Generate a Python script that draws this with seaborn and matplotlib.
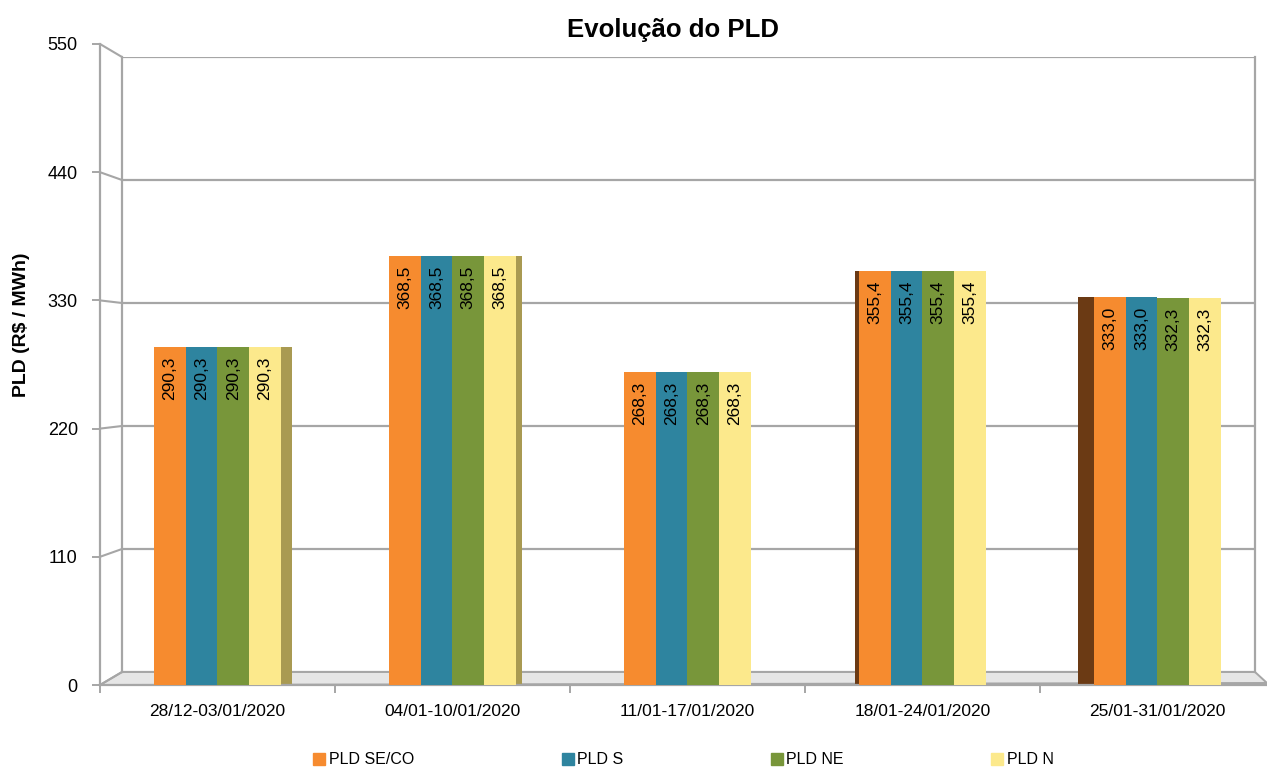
import matplotlib
matplotlib.use("Agg")
import matplotlib.pyplot as plt
from matplotlib.lines import Line2D
from matplotlib.patches import Polygon
import numpy as np
import pandas as pd
import seaborn as sns

# Weekly PLD values (R$/MWh) per submarket
periodos = ["28/12-03/01/2020", "04/01-10/01/2020", "11/01-17/01/2020",
            "18/01-24/01/2020", "25/01-31/01/2020"]
series = ["PLD SE/CO", "PLD S", "PLD NE", "PLD N"]
pld_seco = [290.3, 368.5, 268.3, 355.4, 333.0]
pld_s = [290.3, 368.5, 268.3, 355.4, 333.0]
pld_ne = [290.3, 368.5, 268.3, 355.4, 332.3]
pld_n = [290.3, 368.5, 268.3, 355.4, 332.3]
y_ticks = [0, 110, 220, 330, 440, 550]

cores = ["#F68B2F", "#2E849F", "#78963A", "#FCE98C"]
cores_lado = ["#6B3A14", "#1C5565", "#4B5F25", "#A99A52"]
cinza = "#A6A6A6"
# visible depth (pixels) of the group's side face; >0 right side, <0 left side
profundidade = [11, 6, 0, -4, -16]

df = pd.DataFrame({
    "periodo": periodos * 4,
    "serie": np.repeat(series, len(periodos)),
    "valor": pld_seco + pld_s + pld_ne + pld_n,
})

sns.set_theme(style="white")
plt.rcParams["font.family"] = ["Liberation Sans", "DejaVu Sans"]
plt.rcParams["text.color"] = "black"
plt.rcParams["xtick.color"] = "black"
plt.rcParams["ytick.color"] = "black"

W, H = 1267, 769
fig = plt.figure(figsize=(W / 100, H / 100), dpi=100)


def rect(x0, y0, x1, y1):
    return [x0 / W, 1 - y1 / H, (x1 - x0) / W, (y1 - y0) / H]


# back wall with gridlines
ax_back = fig.add_axes(rect(122, 57, 1255, 672))
ax_back.set_ylim(0, 550)
ax_back.set_xlim(0, 1)
ax_back.set_yticks(y_ticks)
ax_back.set_xticks([])
ax_back.tick_params(length=0, labelleft=False)
ax_back.grid(axis="y", color=cinza, lw=1.6)
for s in ["top", "bottom"]:
    ax_back.spines[s].set_visible(False)
for s in ["left", "right"]:
    ax_back.spines[s].set_color(cinza)
    ax_back.spines[s].set_linewidth(1.6)

# front axis carrying the bars
ax = fig.add_axes(rect(100, 44, 1267, 685))
ax.patch.set_alpha(0)
sns.barplot(data=df, x="periodo", y="valor", hue="serie", palette=cores,
            width=0.54, saturation=1, legend=False, ax=ax, zorder=3,
            linewidth=0, edgecolor="none")
ax.set_ylim(0, 550)
ax.set_xlim(-0.5, 4.466)
ax.set_yticks(y_ticks)
ax.set_xlabel("")
ax.set_ylabel("")
for s in ["top", "right"]:
    ax.spines[s].set_visible(False)
for s in ["left", "bottom"]:
    ax.spines[s].set_color(cinza)
    ax.spines[s].set_linewidth(1.6)
ax.tick_params(axis="y", length=6, width=1.4, color=cinza, pad=10,
               labelsize=13, left=True, labelcolor="black")
ax.tick_params(axis="x", which="major", length=0, pad=14, labelsize=12.5,
               labelcolor="black")
ax.set_xticks(np.arange(-0.5, 4.5, 1.0), minor=True)
ax.tick_params(axis="x", which="minor", length=6, width=1.4, color=cinza,
               bottom=True)

# side faces at the ends of each group give the bars some depth
px_per_unit = ax.transData.transform((1, 0))[0] - ax.transData.transform((0, 0))[0]
first, last = ax.containers[0], ax.containers[-1]
for i, d in enumerate(profundidade):
    if d == 0:
        continue
    dx = abs(d) / px_per_unit
    if d > 0:
        barra, cor = last[i], cores_lado[-1]
        xe = barra.get_x() + barra.get_width()
        xs = [xe, xe + dx, xe + dx, xe]
    else:
        barra, cor = first[i], cores_lado[0]
        xe = barra.get_x()
        xs = [xe, xe - dx, xe - dx, xe]
    h = barra.get_height()
    ax.fill(xs, [0, 0, h, h], color=cor, zorder=2.5, lw=0)

# value labels inside each bar
for cont in ax.containers:
    for barra in cont:
        v = barra.get_height()
        ax.annotate(f"{v:.1f}".replace(".", ","),
                    xy=(barra.get_x() + barra.get_width() / 2, v),
                    xytext=(0, -7), textcoords="offset points",
                    rotation=90, ha="center", va="top", fontsize=12.5,
                    color="black", zorder=5)

# floor and perspective connectors
inv = fig.transFigure.inverted()
floor_px = [(100, 685), (122, 672), (1255, 672), (1267, 683)]
floor = Polygon([(x / W, 1 - y / H) for x, y in floor_px], closed=True,
                transform=fig.transFigure, facecolor="#E6E6E6",
                edgecolor=cinza, lw=1.4, zorder=-1)
fig.add_artist(floor)
x0 = ax.get_xlim()[0]
for t in y_ticks:
    p_front = inv.transform(ax.transData.transform((x0, t)))
    p_back = inv.transform(ax_back.transData.transform((0, t)))
    fig.add_artist(Line2D([p_front[0], p_back[0]], [p_front[1], p_back[1]],
                          transform=fig.transFigure, color=cinza, lw=1.5))

# titles
fig.text(673 / W, 1 - 30 / H, "Evolução do PLD", ha="center", va="center",
         fontsize=18.5, fontweight="bold", color="black")
fig.text(22 / W, 1 - 325 / H, "PLD (R\\$ / MWh)", ha="center", va="center",
         rotation=90, fontsize=14, fontweight="bold", color="black")

# legend
handles = [Line2D([], [], ls="", marker="s", markersize=8, color=c,
                  markeredgecolor=c) for c in cores]
fig.legend(handles, series, loc="center", bbox_to_anchor=(0.54, 1 - 760 / H),
           ncol=4, frameon=False, handlelength=0.6, handletextpad=0.3,
           columnspacing=9.3, fontsize=11.5)

fig.savefig("out.png", dpi=100)
